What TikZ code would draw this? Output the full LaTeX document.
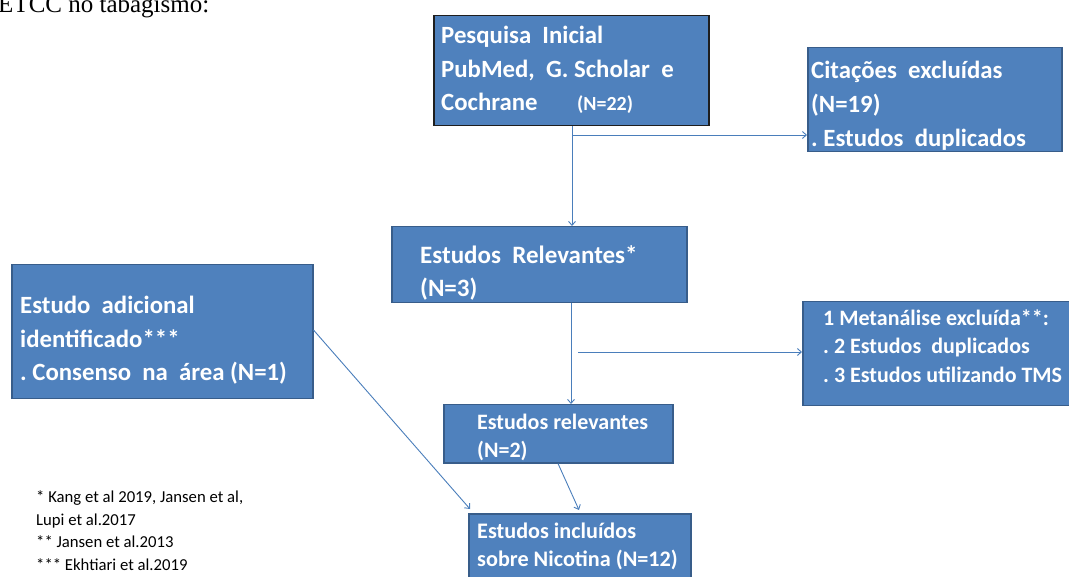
\documentclass[tikz,border=0pt]{standalone}
\usepackage{fontspec}
\setmainfont{Carlito}
\newfontfamily\titlefont{Liberation Serif}
\usetikzlibrary{calc,arrows.meta}
\definecolor{boxfill}{HTML}{4F81BD}
\definecolor{boxline}{HTML}{385D8A}
\definecolor{conncol}{HTML}{4A7EBB}
\definecolor{darkline}{HTML}{1E1E1E}
\tikzset{
  box/.style={draw=boxline, fill=boxfill, line width=1.5pt, inner sep=0pt, anchor=north west},
  txt/.style={text=white, anchor=base west, inner sep=0pt, align=left},
  conn/.style={draw=conncol, line width=0.9pt, -{Straight Barb[length=4pt,width=7pt]}}
}
\begin{document}
\begin{tikzpicture}[x=1pt,y=-1pt]
\useasboundingbox (0,0) rectangle (1069,577);
% title
\node[anchor=base west, inner sep=0pt, font={\titlefont\fontsize{25}{30}\selectfont}] (title) at (-2,13) {ETCC no tabagismo:};
% boxes
\node[box, draw=darkline, minimum width=275pt, minimum height=110pt] (b1) at (433,15) {};
\node[box, minimum width=254pt, minimum height=104pt] (b2) at (807,47) {};
\node[box, minimum width=295pt, minimum height=76pt] (b3) at (391,226) {};
\node[box, minimum width=301pt, minimum height=134pt] (b4) at (11,264) {};
\node[box, minimum width=280pt, minimum height=104pt] (b5) at (802,301) {};
\node[box, minimum width=229pt, minimum height=58pt] (b6) at (443,404) {};
\node[box, minimum width=222pt, minimum height=80pt] (b7) at (468,513) {};
% texts (anchored at the baseline of the last line)
\node[txt, font={\fontsize{24.8}{33.5}\selectfont\bfseries}] (t1) at (441,111) {Pesquisa\ \ Inicial\\PubMed,\ \ G. Scholar\ \ e\\Cochrane};
\node[txt, font={\fontsize{20}{24}\selectfont\bfseries}] (t1n) at (577,111) {(N=22)};
\node[txt, font={\fontsize{24.8}{34}\selectfont\bfseries}] (t2) at (811,147) {Citações\ \ excluídas\\(N=19)\\.\ Estudos\ \ duplicados};
\node[txt, font={\fontsize{25}{33}\selectfont\bfseries}] (t3) at (420,297) {Estudos\ \ Relevantes*\\(N=3)};
\node[txt, font={\fontsize{24.8}{33.5}\selectfont\bfseries}] (t4) at (20,381) {Estudo\ \ adicional\\identificado***\\.\ Consenso\ \ na\ \ área (N=1)};
\node[txt, font={\fontsize{22}{29}\selectfont\bfseries}] (t5) at (823,383) {1 Metanálise excluída**:\\.\ 2 Estudos\ \ duplicados\\.\ 3 Estudos utilizando TMS};
\node[txt, font={\fontsize{22}{28}\selectfont\bfseries}] (t6) at (477,457) {Estudos relevantes\\(N=2)};
\node[txt, font={\fontsize{22.2}{28}\selectfont\bfseries}] (t7) at (477,566) {Estudos incluídos\\sobre Nicotina (N=12)};
% footnotes
\node[anchor=base west, inner sep=0pt, align=left, font={\fontsize{16.7}{22.5}\selectfont}] (fn) at (36,570) {* Kang et al 2019, Jansen et al,\\Lupi et al.2017\\** Jansen et al.2013\\*** Ekhtiari et al.2019};
% connectors
\coordinate (s1) at (572,135);
\coordinate (v2) at (571,0);
\coordinate (s2) at (578,352);
\coordinate (a4) at (0,330);
\coordinate (d6) at (558,0);
\draw[conn] (b1.south -| s1) -- (b3.north -| s1);
\draw[conn] (s1) -- (b2.west |- s1);
\draw[conn] (b3.south -| v2) -- (b6.north -| v2);
\draw[conn] (s2) -- (b5.west |- s2);
\draw[conn] (b4.east |- a4) -- ($(b7.north west)+(2,-4)$);
\draw[conn] (b6.south -| d6) -- ($(b7.north west)+(111,-3)$);
\end{tikzpicture}
\end{document}
